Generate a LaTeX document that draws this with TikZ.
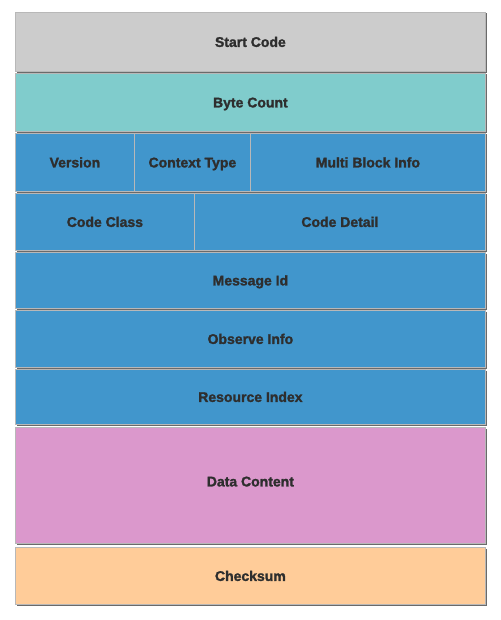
\documentclass[tikz,border=0pt]{standalone}
\usepackage{fontspec}
\newfontfamily\heavyfont{Liberation Sans Bold}[FakeBold=1.6]
\definecolor{cgray}{HTML}{CCCCCC}
\definecolor{cteal}{HTML}{80CCCC}
\definecolor{cblue}{HTML}{4196CC}
\definecolor{cpink}{HTML}{DB98CC}
\definecolor{corange}{HTML}{FFCC99}
\definecolor{ctext}{HTML}{2E2E2E}
\definecolor{cedge}{HTML}{B8B8B8}
\definecolor{cshadow}{HTML}{6A6A6A}
\tikzset{
  field/.style={draw=cedge, line width=0.8pt, inner sep=0pt, anchor=north west},
  lbl/.style={text=ctext, font=\heavyfont\fontsize{14}{16}\selectfont, text height=10pt, text depth=0pt, inner sep=0pt},
}
\newcommand{\fieldbox}[6]{% name, x1, y1, x2, y2, color
  \fill[cshadow] (#2+1.5,#3+1.5) rectangle (#4+1.8,#5+1.8);
  \node[field, fill=#6, minimum width=#4-#2, minimum height=#5-#3] (#1) at (#2,#3) {};
}
\begin{document}
\begin{tikzpicture}[x=1pt,y=-1pt]
\useasboundingbox (0,0) rectangle (500,620);
\fill[white] (0,0) rectangle (500,620);
\fieldbox{start}{15}{12}{485}{71}{cgray}
\node[lbl] at (start.center) {Start Code};
\fieldbox{byte}{15}{73}{485}{131}{cteal}
\node[lbl] at (byte.center) {Byte Count};
\fieldbox{ver}{15}{133}{134}{191}{cblue}
\node[lbl] at (ver.center) {Version};
\fieldbox{ctx}{134}{133}{250}{191}{cblue}
\node[lbl] at (ctx.center) {Context Type};
\fieldbox{mbi}{250}{133}{485}{191}{cblue}
\node[lbl] at (mbi.center) {Multi Block Info};
\fieldbox{cls}{15}{193}{194}{250}{cblue}
\node[lbl] at (cls.center) {Code Class};
\fieldbox{det}{194}{193}{485}{250}{cblue}
\node[lbl] at (det.center) {Code Detail};
\fieldbox{mid}{15}{252}{485}{308}{cblue}
\node[lbl] at (mid.center) {Message Id};
\fieldbox{obs}{15}{310}{485}{367}{cblue}
\node[lbl] at (obs.center) {Observe Info};
\fieldbox{res}{15}{369}{485}{424}{cblue}
\node[lbl] at (res.center) {Resource Index};
\fieldbox{data}{15}{427}{485}{543}{cpink}
\node[lbl] at ([yshift=4pt]data.center) {Data Content};
\fieldbox{chk}{15}{547}{485}{604}{corange}
\node[lbl] at (chk.center) {Checksum};
\end{tikzpicture}
\end{document}
